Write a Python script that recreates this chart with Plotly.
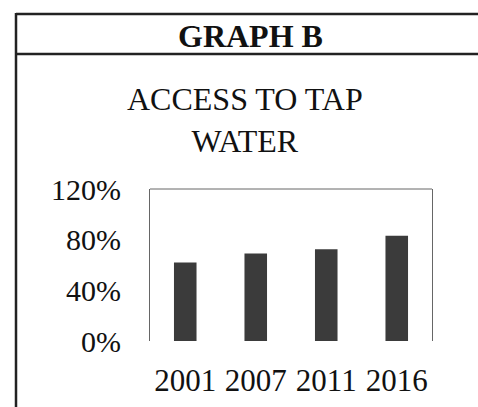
import plotly.graph_objects as go

years = ["2001", "2007", "2011", "2016"]
access = [0.62, 0.69, 0.725, 0.83]
y_ticks = [0, 0.4, 0.8, 1.2]
y_ticklabels = ["0%", "40%", "80%", "120%"]

W, H = 478, 407
FONT = "Liberation Serif, Times New Roman, serif"

def px(x):
    return x / W

def py(y):
    return 1 - y / H

fig = go.Figure(go.Bar(
    x=years, y=access, marker=dict(color="#3b3b3b", line=dict(width=0)),
    width=0.32, hoverinfo="skip",
))

fig.update_layout(
    template="none",
    width=W, height=H,
    margin=dict(l=0, r=0, t=0, b=0, pad=0),
    paper_bgcolor="white", plot_bgcolor="white",
    showlegend=False,
    font=dict(family=FONT, color="#111111"),
    xaxis=dict(
        type="category",
        domain=[px(150), px(432)],
        automargin=False,
        showline=False, showgrid=False, zeroline=False,
        ticks="outside", ticklen=12, tickcolor="rgba(0,0,0,0)",
        tickfont=dict(size=31, family=FONT, color="#111111"),
    ),
    yaxis=dict(
        domain=[py(341), py(189)],
        automargin=False,
        range=[0, 1.2],
        tickvals=y_ticks, ticktext=y_ticklabels,
        showline=True, linecolor="#666666", linewidth=1, mirror=True,
        showgrid=False, zeroline=False,
        ticks="outside", ticklen=22, tickcolor="rgba(0,0,0,0)",
        tickfont=dict(size=30, family=FONT, color="#111111"),
    ),
    shapes=[
        dict(type="line", xref="paper", yref="paper", x0=px(150), x1=px(432), y0=py(189), y1=py(189),
             line=dict(color="#666666", width=1)),
        dict(type="line", xref="paper", yref="paper", x0=px(16), x1=1.01, y0=py(14), y1=py(14),
             line=dict(color="#222222", width=2.5)),
        dict(type="line", xref="paper", yref="paper", x0=px(16), x1=1.01, y0=py(54), y1=py(54),
             line=dict(color="#222222", width=2.5)),
        dict(type="line", xref="paper", yref="paper", x0=px(16), x1=px(16), y0=py(13), y1=-0.01,
             line=dict(color="#222222", width=2.5)),
    ],
    annotations=[
        dict(text="<b>GRAPH B</b>", x=px(251), y=py(36), xref="paper", yref="paper",
             showarrow=False, xanchor="center", yanchor="middle",
             font=dict(size=32, family=FONT, color="#111111")),
        dict(text="ACCESS TO TAP<br>WATER", x=px(245), y=py(120), xref="paper", yref="paper",
             showarrow=False, xanchor="center", yanchor="middle",
             font=dict(size=32, family=FONT, color="#111111")),
    ],
)

fig.write_html("out.html", config={"displayModeBar": False, "staticPlot": True},
               post_script="document.body.style.margin='0';")
